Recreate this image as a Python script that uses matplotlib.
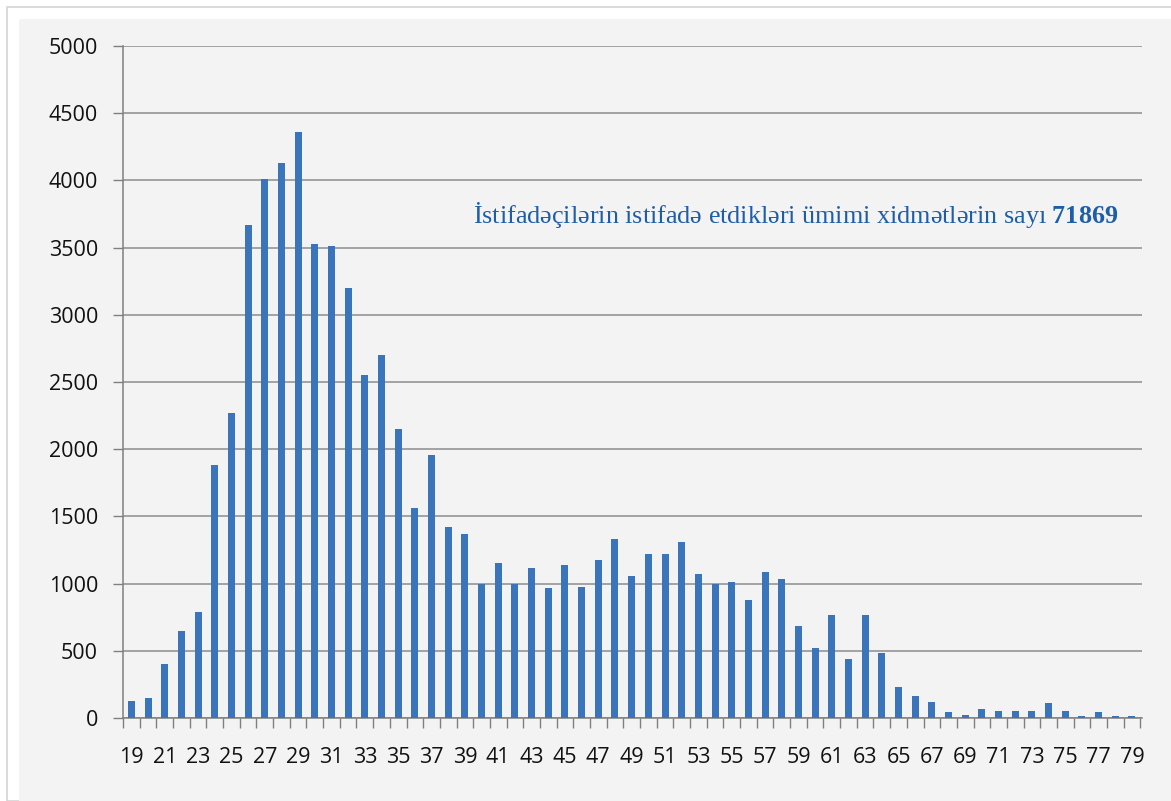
import numpy as np
import matplotlib
matplotlib.use("Agg")
import matplotlib.pyplot as plt
from matplotlib.patches import Rectangle

ages = list(range(19, 80))
counts = [130, 150, 400, 650, 790, 1880, 2270, 3670, 4010, 4130,
          4360, 3530, 3510, 3200, 2550, 2700, 2150, 1560, 1960, 1420,
          1370, 1000, 1150, 1000, 1115, 965, 1140, 975, 1175, 1335,
          1055, 1220, 1220, 1310, 1070, 1000, 1010, 880, 1090, 1035,
          685, 520, 765, 440, 765, 480, 230, 165, 120, 45,
          25, 65, 55, 55, 55, 115, 55, 15, 45, 15, 15]
yticks = list(range(0, 5001, 500))
note = "İstifadəçilərin istifadə etdikləri ümimi xidmətlərin sayı "
total = "71869"

plt.rcParams["mathtext.fontset"] = "custom"
plt.rcParams["mathtext.rm"] = "Liberation Serif"
plt.rcParams["mathtext.bf"] = "Liberation Serif:bold"

fig = plt.figure(figsize=(11.71, 8.01), dpi=100)
fig.patch.set_facecolor("white")
W, H = 1171, 801
# outer border and grey panel
fig.patches.append(Rectangle((7 / W, 0), 1, 1 - 7 / H, transform=fig.transFigure,
                             facecolor="white", edgecolor="#d4d4d4", lw=1.2, zorder=-2))
fig.patches.append(Rectangle((19 / W, 0), 1, 1 - 19 / H, transform=fig.transFigure,
                             facecolor="#f3f3f3", edgecolor="none", zorder=-1))

ax = fig.add_axes([123 / W, (H - 718) / H, (1142 - 123) / W, (718 - 46) / H])
ax.set_facecolor("none")

ax.bar(ages, counts, width=0.42, color="#3a74bb", zorder=3)

ax.set_xlim(18.5, 79.6)
ax.set_ylim(0, 5000)
ax.set_yticks(yticks)
ax.yaxis.grid(True, color="#8c8c8c", lw=1.1, zorder=1)
ax.set_axisbelow(True)

ax.set_xticks(ages[::2])
ax.set_xticks(np.arange(18.5, 80, 1), minor=True)
ax.tick_params(axis="x", which="major", length=0, pad=21, labelsize=15.5)
ax.tick_params(axis="x", which="minor", length=7, width=1, color="#7f7f7f")
ax.tick_params(axis="y", length=7, width=1, color="#7f7f7f", pad=11, labelsize=15.5)
for lab in ax.get_xticklabels() + ax.get_yticklabels():
    lab.set_fontfamily("Open Sans")
    lab.set_fontweight(500)
    lab.set_color("#111111")

for s in ["top", "right"]:
    ax.spines[s].set_visible(False)
for s in ["left", "bottom"]:
    ax.spines[s].set_color("#7f7f7f")
    ax.spines[s].set_linewidth(1.1)

ax.text(0.343, 0.748, note + r"$\mathbf{" + total + "}$", transform=ax.transAxes,
        ha="left", va="center", fontsize=18.8, family="Liberation Serif",
        color="#1d5ea8")

fig.savefig("out.png", dpi=100)
